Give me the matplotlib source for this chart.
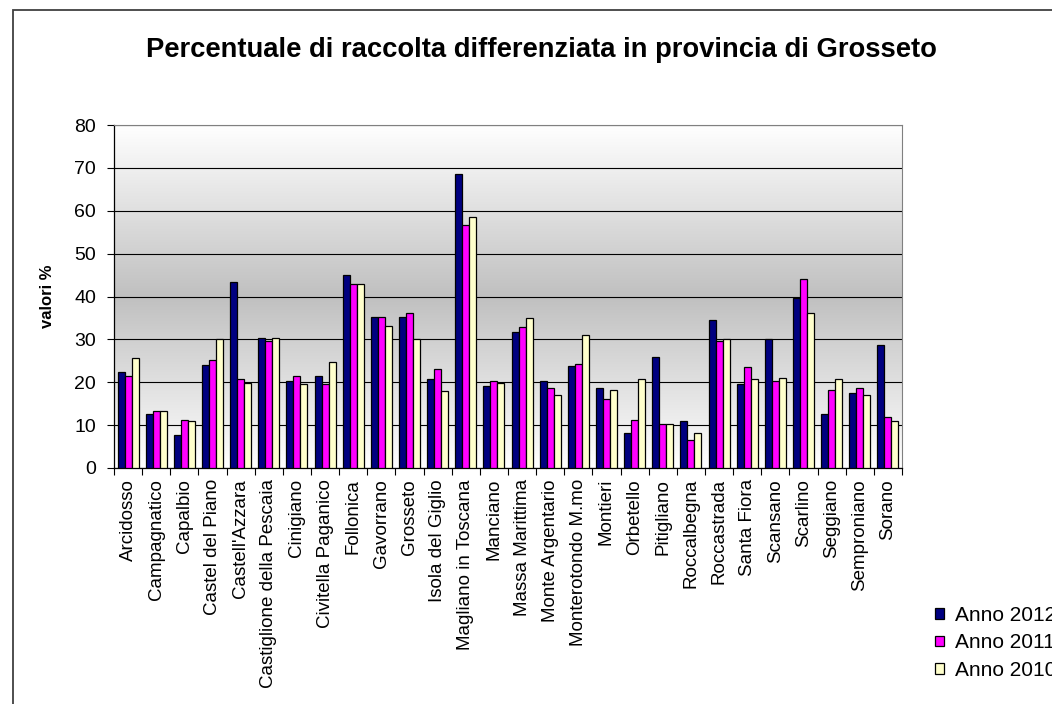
import numpy as np
import matplotlib
matplotlib.use("Agg")
import matplotlib.pyplot as plt
from matplotlib.patches import Rectangle
from matplotlib.colors import LinearSegmentedColormap

plt.rcParams['font.family'] = ['Liberation Sans', 'DejaVu Sans']

comuni = ["Arcidosso", "Campagnatico", "Capalbio", "Castel del Piano",
          "Castell'Azzara", "Castiglione della Pescaia", "Cinigiano",
          "Civitella Paganico", "Follonica", "Gavorrano", "Grosseto",
          "Isola del Giglio", "Magliano in Toscana", "Manciano",
          "Massa Marittima", "Monte Argentario", "Monterotondo M.mo",
          "Montieri", "Orbetello", "Pitigliano", "Roccalbegna",
          "Roccastrada", "Santa Fiora", "Scansano", "Scarlino", "Seggiano",
          "Semproniano", "Sorano"]

anno_2012 = [22.3, 12.7, 7.8, 24.0, 43.3, 30.4, 20.3, 21.5, 45.0, 35.2,
             35.2, 20.7, 68.5, 19.1, 31.7, 20.3, 23.9, 18.7, 8.2, 25.9,
             11.0, 34.5, 19.5, 30.0, 39.7, 12.7, 17.5, 28.8]
anno_2011 = [21.5, 13.4, 11.3, 25.2, 20.7, 29.6, 21.5, 19.5, 43.0, 35.2,
             36.1, 23.1, 56.6, 20.3, 32.8, 18.7, 24.3, 16.2, 11.3, 10.3,
             6.5, 29.7, 23.5, 20.3, 44.1, 18.3, 18.7, 11.8]
anno_2010 = [25.6, 13.4, 11.0, 30.0, 19.9, 30.4, 19.5, 24.7, 43.0, 33.2,
             30.0, 17.9, 58.6, 19.9, 34.9, 17.1, 31.1, 18.3, 20.7, 10.3,
             8.2, 30.0, 20.7, 21.1, 36.1, 20.7, 17.1, 11.0]

serie = [("Anno 2012", anno_2012, "#000080"),
         ("Anno 2011", anno_2011, "#ff00ff"),
         ("Anno 2010", anno_2010, "#ffffcc")]

W, H = 1052, 704
fig = plt.figure(figsize=(W / 100, H / 100), dpi=100)
ax = fig.add_axes([114 / W, 1 - 468 / H, (902 - 114) / W, (468 - 125) / H])

# sfondo sfumato dell'area del grafico
cmap = LinearSegmentedColormap.from_list("sfondo", ["#ffffff", "#c0c0c0", "#ffffff"])
grad = np.linspace(0, 1, 256).reshape(-1, 1)
ax.imshow(grad, cmap=cmap, aspect="auto", extent=[-0.5, len(comuni) - 0.5, 0, 80],
          zorder=0, interpolation="bicubic")

x = np.arange(len(comuni))
w = 0.25
handles = []
for i, (nome, valori, colore) in enumerate(serie):
    b = ax.bar(x + (i - 1) * w, valori, w, color=colore, edgecolor="black",
               linewidth=0.9, label=nome, zorder=3)
    handles.append(b)

ax.set_xlim(-0.5, len(comuni) - 0.5)
ax.set_ylim(0, 80)
ax.set_yticks(range(0, 81, 10))
ax.yaxis.grid(True, color="black", linewidth=0.8, zorder=1)
ax.set_axisbelow(True)

ax.set_xticks(x)
ax.set_xticklabels(comuni, rotation=90, fontsize=13.5)
ax.set_xticks(np.arange(-0.5, len(comuni)), minor=True)
ax.tick_params(axis="x", which="major", length=0, pad=8)
ax.tick_params(axis="x", which="minor", length=5, width=0.8, direction="out")
ax.tick_params(axis="y", labelsize=14, length=5, width=0.8, pad=8)

for s in ["top", "right"]:
    ax.spines[s].set_color("#808080")
ax.spines["left"].set_linewidth(0.9)
ax.spines["bottom"].set_linewidth(0.9)

ax.set_ylabel("valori %", fontsize=12, fontweight="bold", labelpad=14)

fig.text(541 / W, 1 - 57 / H, "Percentuale di raccolta differenziata in provincia di Grosseto",
         ha="center", va="baseline", fontsize=19.7, fontweight="bold")

# cornice esterna del grafico
fig.patches.append(Rectangle((13 / W, -0.1), 1.2, 1.1 - 10 / H, transform=fig.transFigure,
                             fill=False, edgecolor="#404040", linewidth=1.3))

fig.legend(handles=handles, loc="center left", bbox_to_anchor=(935 / W, 1 - 643 / H),
           frameon=False, fontsize=15, handlelength=0.42, handleheight=0.42,
           handletextpad=0.55, labelspacing=0.4, borderpad=0, borderaxespad=0)

fig.savefig("out.png", dpi=100)
